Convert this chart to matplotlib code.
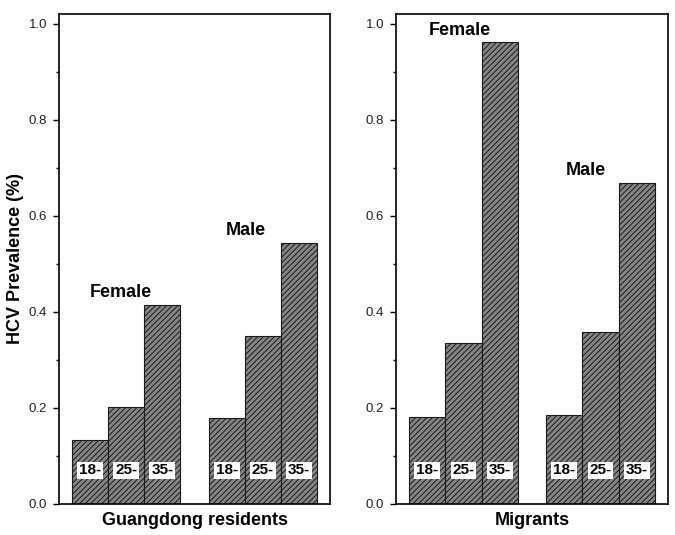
import matplotlib
matplotlib.use("Agg")
import matplotlib.pyplot as plt
from matplotlib.ticker import MultipleLocator, FormatStrFormatter

plt.rcParams['font.family'] = ['Liberation Sans', 'DejaVu Sans']
plt.rcParams['hatch.color'] = '#454545'
plt.rcParams['hatch.linewidth'] = 0.7

ages = ["18-", "25-", "35-"]
panels = ["Guangdong residents", "Migrants"]
female_vals = [[0.133, 0.202, 0.414], [0.181, 0.334, 0.961]]
male_vals = [[0.179, 0.350, 0.543], [0.185, 0.358, 0.668]]
ylabel = "HCV Prevalence (%)"

fig = plt.figure(figsize=(6.75, 5.35), dpi=100)
axes_rects = [[0.0874, 0.058, 0.4015, 0.916], [0.5867, 0.058, 0.403, 0.916]]

female_x = [0, 1, 2]
male_x = [3.78, 4.78, 5.78]
label_pos = [
    {"Female": (0.86, 0.44), "Male": (4.31, 0.57)},
    {"Female": (0.9, 0.985), "Male": (4.38, 0.695)},
]

for i, rect in enumerate(axes_rects):
    ax = fig.add_axes(rect)
    for xs, vals in ((female_x, female_vals[i]), (male_x, male_vals[i])):
        ax.bar(xs, vals, width=1.0, color='#858585', edgecolor='#1a1a1a',
               linewidth=0.8, hatch='//////')
        for x, a in zip(xs, ages):
            ax.text(x, 0.07, a, ha='center', va='center', fontsize=11,
                    fontweight='bold', color='black',
                    bbox=dict(boxstyle='square,pad=0.12', fc='white', ec='none'))
    for g, (tx, ty) in label_pos[i].items():
        ax.text(tx, ty, g, ha='center', va='center', fontsize=13,
                fontweight='bold')
    ax.set_xlim(-0.86, 6.64)
    ax.set_ylim(0, 1.02)
    ax.set_xticks([])
    ax.yaxis.set_major_locator(MultipleLocator(0.2))
    ax.yaxis.set_minor_locator(MultipleLocator(0.1))
    ax.yaxis.set_major_formatter(FormatStrFormatter('%.1f'))
    ax.tick_params(axis='y', which='major', length=4.5, width=1, labelsize=9.5,
                   direction='out', pad=4, labelcolor='#222222')
    ax.tick_params(axis='y', which='minor', length=2.5, width=1,
                   direction='out')
    for s in ax.spines.values():
        s.set_linewidth(1.2)
    ax.set_xlabel(panels[i], fontsize=13, fontweight='bold', labelpad=6)
    if i == 0:
        ax.set_ylabel(ylabel, fontsize=13, fontweight='bold')
        ax.yaxis.set_label_coords(-0.128, 0.5)

fig.savefig("out.png", dpi=100)
